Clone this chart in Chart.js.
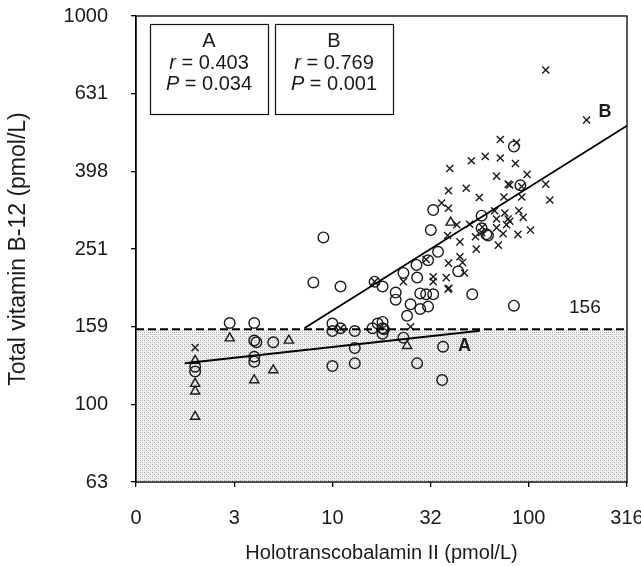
<!DOCTYPE html>
<html>
<head>
<meta charset="utf-8">
<script src="https://cdn.jsdelivr.net/npm/chart.js@4"></script>
<style>
  html, body { margin: 0; padding: 0; background: #fff; }
  #wrap { width: 641px; height: 566px; }
</style>
</head>
<body>
<div id="wrap"><canvas id="chart" width="641" height="566"></canvas></div>
<script>
// ---- data (pmol/L) ----
const xTickValues = [1, 3.162, 10, 31.62, 100, 316.2];
const xTickLabels = ['0', '3', '10', '32', '100', '316'];
const yTickValues = [63.1, 100, 158.5, 251.2, 398.1, 631, 1000];
const yTickLabels = ['63', '100', '159', '251', '398', '631', '1000'];

const cutoff = 156;

// open circles
const circleHolo = [3, 4, 4, 4.1, 5, 4, 4, 2, 2,
  8, 9, 11, 10, 10, 11, 13, 13, 13, 10,
  16, 16.4, 17, 18, 18, 18, 18.3, 18,
  21, 21, 23, 23, 24, 25, 26.8, 27, 27,
  28, 28, 30, 32.6, 30.7, 30.7, 34.5, 31.7, 32.6,
  36.6, 36.2, 43.7, 51.5, 57.5, 57.5, 60.8, 62, 84, 90.6, 84];
const circleB12 = [162, 162, 146, 144.5, 144.5, 132.6, 128.8, 125, 121.5,
  206, 269, 201, 161.5, 154.4, 157, 154.4, 139.6, 127.5, 125.5,
  157, 207, 161.5, 201, 163, 157, 156, 152,
  194, 186, 218, 148.5, 169, 181, 228.5, 212, 127.5,
  193, 176, 192, 192, 178.5, 235, 247, 281, 316.5,
  140.7, 115.5, 220, 192, 306, 284, 274, 272, 461, 366.5, 179.5];

// crosses
const crossHolo = [122, 197, 71.6, 86.6, 51, 60, 71.6, 85.5, 39.6, 68.5,
  98, 78.5, 80, 122, 39, 48, 56, 74.7, 92, 128,
  36, 39, 67, 75.5, 89, 93.6, 78.5, 43, 50, 68.5,
  80, 58, 57.5, 68.5, 77, 88, 102, 38.6, 53.5, 74,
  44.6, 54, 70, 39, 44.6, 46, 47, 32.6, 32.6, 38,
  38.8, 39.2, 23, 25, 16.4, 11, 2, 30, 92];
const crossB12 = [726, 540, 481, 472, 424, 435, 431, 417, 405, 387,
  391, 369, 367, 369, 355, 360, 341, 342, 342, 336,
  330, 320, 315, 311, 315, 303, 300, 290, 291, 300,
  296, 286, 277, 285, 290, 274, 281, 272, 270, 275,
  262, 251, 257, 231, 240, 232, 218, 213, 207, 212,
  198, 199, 207, 158.4, 207, 157, 140, 236, 364];

// triangles
const triHolo = [2, 2, 2, 2, 3, 4, 5, 6, 24, 40];
const triB12 = [129.5, 113, 108, 93, 148, 115.5, 122.5, 146, 141.5, 294];

// regression lines (end points)
const lineAHolo = [1.77, 56.3];
const lineAB12 = [127.6, 154.7];
const lineBHolo = [7.22, 316.2];
const lineBB12 = [157.2, 522];

// statistics boxes
const statGroups = ['A', 'B'];
const statR = ['0.403', '0.769'];
const statP = ['0.034', '0.001'];

const FAMILY = "'Liberation Sans', Arial, Helvetica, sans-serif";
const INK = '#1a1a1a';

const pts = (xs, ys) => xs.map((v, i) => ({ x: v, y: ys[i] }));

function makeStipple() {
    const c = document.createElement('canvas');
    c.width = 4; c.height = 4;
    const g = c.getContext('2d');
    g.fillStyle = '#f2f2f2'; g.fillRect(0, 0, 4, 4);
    g.fillStyle = '#a6a6a6'; g.fillRect(0, 0, 1, 1); g.fillRect(2, 2, 1, 1);
    g.fillStyle = '#cfcfcf'; g.fillRect(2, 0, 1, 1); g.fillRect(0, 2, 1, 1);
    return g.createPattern(c, 'repeat');
}
const stipple = makeStipple();

// draws mixed italic/regular text centered on cx
function drawStat(ctx, cx, cy, sym, rest) {
    const it = 'italic 20px ' + FAMILY, rg = '20px ' + FAMILY;
    ctx.font = it; const w1 = ctx.measureText(sym).width;
    ctx.font = rg; const w2 = ctx.measureText(rest).width;
    const x0 = cx - (w1 + w2) / 2;
    ctx.textAlign = 'left';
    ctx.font = it; ctx.fillText(sym, x0, cy);
    ctx.font = rg; ctx.fillText(rest, x0 + w1, cy);
}

const decor = {
    id: 'decor',
    beforeDraw(chart) {
        const ctx = chart.ctx;
        ctx.save();
        ctx.fillStyle = '#fff';
        ctx.fillRect(0, 0, chart.width, chart.height);
        ctx.restore();
    },
    beforeDatasetsDraw(chart) {
        const { ctx, chartArea: a, scales: { y } } = chart;
        const yc = y.getPixelForValue(cutoff);
        ctx.save();
        ctx.fillStyle = stipple;
        ctx.fillRect(a.left, yc, a.right - a.left, a.bottom - yc);
        ctx.restore();
    },
    afterDraw(chart) {
        const { ctx, chartArea: a, scales: { x, y } } = chart;
        ctx.save();
        // frame
        ctx.strokeStyle = '#000';
        ctx.lineWidth = 1.3;
        ctx.strokeRect(a.left, a.top, a.right - a.left, a.bottom - a.top);

        // stat boxes
        ctx.textBaseline = 'middle';
        statGroups.forEach((g, i) => {
            const bx = a.left + 14 + i * 125, by = a.top + 8, bw = 118, bh = 90;
            ctx.fillStyle = '#fff';
            ctx.fillRect(bx, by, bw, bh);
            ctx.strokeStyle = '#111';
            ctx.lineWidth = 1.2;
            ctx.strokeRect(bx + 0.5, by + 0.5, bw, bh);
            ctx.fillStyle = INK;
            const cx = bx + bw / 2;
            ctx.font = '20px ' + FAMILY;
            ctx.textAlign = 'center';
            ctx.fillText(g, cx, by + 17);
            drawStat(ctx, cx, by + 39, 'r', ' = ' + statR[i]);
            drawStat(ctx, cx, by + 60, 'P', ' = ' + statP[i]);
        });

        // labels
        ctx.fillStyle = INK;
        ctx.textAlign = 'center';
        ctx.font = '19px ' + FAMILY;
        ctx.fillText(String(cutoff), x.getPixelForValue(193), y.getPixelForValue(177));
        ctx.font = 'bold 18px ' + FAMILY;
        ctx.fillText('A', x.getPixelForValue(47), y.getPixelForValue(141));
        ctx.fillText('B', x.getPixelForValue(244), y.getPixelForValue(566));
        ctx.restore();
    }
};

const markerBase = { borderColor: INK, backgroundColor: 'rgba(0,0,0,0)', borderWidth: 1.4, showLine: false };

new Chart(document.getElementById('chart'), {
    type: 'scatter',
    data: {
        datasets: [
            { label: 'cutoff', data: [{ x: 1, y: cutoff }, { x: 316.2, y: cutoff }], showLine: true,
              borderColor: '#000', borderWidth: 2, borderDash: [8, 4], pointRadius: 0 },
            { label: 'line A', data: pts(lineAHolo, lineAB12), showLine: true,
              borderColor: '#000', borderWidth: 1.8, pointRadius: 0 },
            { label: 'line B', data: pts(lineBHolo, lineBB12), showLine: true,
              borderColor: '#000', borderWidth: 1.8, pointRadius: 0 },
            Object.assign({ label: 'circles', data: pts(circleHolo, circleB12), pointStyle: 'circle', pointRadius: 5.3 }, markerBase),
            Object.assign({ label: 'crosses', data: pts(crossHolo, crossB12), pointStyle: 'crossRot', pointRadius: 5 }, markerBase),
            Object.assign({ label: 'triangles', data: pts(triHolo, triB12), pointStyle: 'triangle', pointRadius: 5.3 }, markerBase)
        ]
    },
    options: {
        responsive: false,
        animation: false,
        devicePixelRatio: 1,
        layout: { padding: { top: 16, right: 14, bottom: 0, left: 0 } },
        plugins: { legend: { display: false }, tooltip: { enabled: false } },
        scales: {
            x: {
                type: 'logarithmic', min: 1, max: 316.2,
                afterBuildTicks: s => { s.ticks = xTickValues.map(v => ({ value: v })); },
                afterFit: s => { s.height = 84; s.paddingLeft = 0; s.paddingRight = 0; },
                ticks: { callback: (v, i) => xTickLabels[i], color: INK, padding: 19,
                         maxRotation: 0, autoSkip: false, font: { size: 20, family: FAMILY } },
                grid: { drawOnChartArea: false, drawTicks: true, tickLength: 5, color: '#000', lineWidth: 1.3 },
                border: { display: true, color: '#000', width: 1.3 },
                title: { display: true, text: 'Holotranscobalamin II (pmol/L)', color: INK,
                         font: { size: 20, family: FAMILY }, padding: { top: 0, bottom: 1 } }
            },
            y: {
                type: 'logarithmic', min: 63.1, max: 1000,
                afterBuildTicks: s => { s.ticks = yTickValues.map(v => ({ value: v })); },
                afterFit: s => { s.width = 136; s.paddingTop = 0; s.paddingBottom = 0; },
                ticks: { callback: (v, i) => yTickLabels[i], color: INK, padding: 23,
                         autoSkip: false, font: { size: 20, family: FAMILY } },
                grid: { drawOnChartArea: false, drawTicks: true, tickLength: 5, color: '#000', lineWidth: 1.3 },
                border: { display: true, color: '#000', width: 1.3 },
                title: { display: true, text: 'Total vitamin B-12 (pmol/L)', color: INK,
                         font: { size: 23, family: FAMILY }, padding: { top: 5, bottom: 0 } }
            }
        }
    },
    plugins: [decor]
});
</script>
</body>
</html>
